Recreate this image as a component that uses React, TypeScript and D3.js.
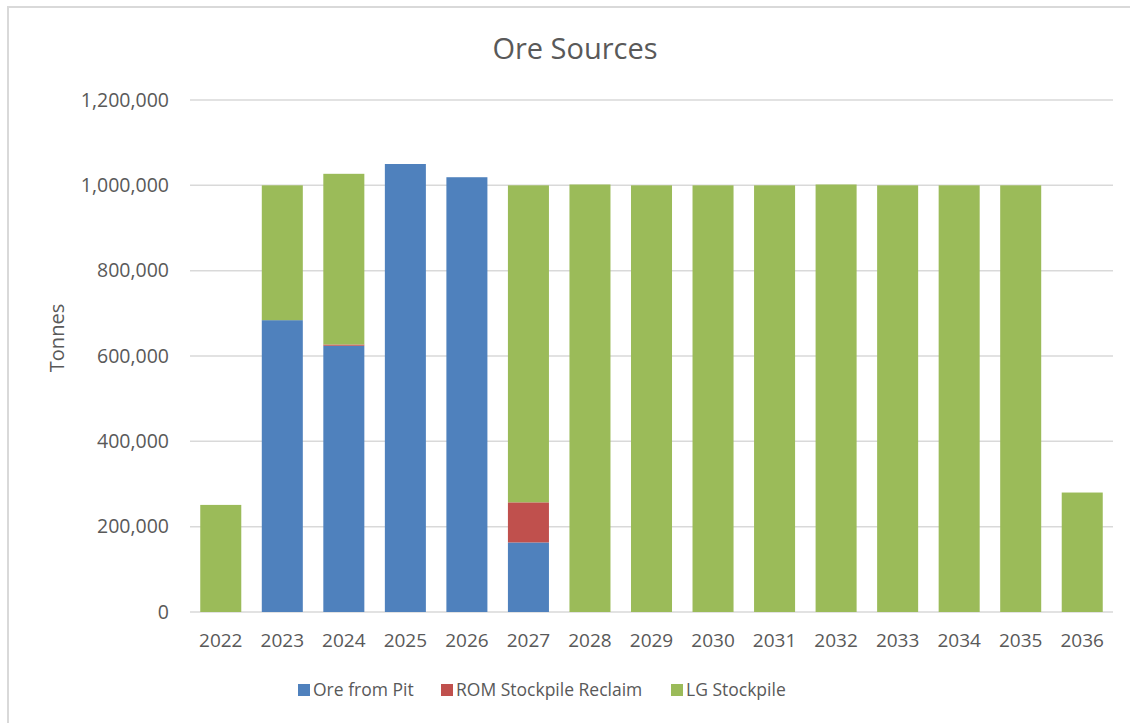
import React from "react";
import * as d3 from "d3";

// chart values
const years = ["2022", "2023", "2024", "2025", "2026", "2027", "2028", "2029", "2030", "2031", "2032", "2033", "2034", "2035", "2036"];
const oreFromPit = [0, 684000, 624000, 1050000, 1019000, 163000, 0, 0, 0, 0, 0, 0, 0, 0, 0];
const romReclaim = [0, 0, 3000, 0, 0, 94000, 0, 0, 0, 0, 0, 0, 0, 0, 0];
const lgStockpile = [251000, 316000, 400000, 0, 0, 743000, 1002000, 1000000, 1000000, 1000000, 1002000, 1000000, 1000000, 1000000, 280000];
const seriesNames = ["Ore from Pit", "ROM Stockpile Reclaim", "LG Stockpile"];
const seriesColors = ["#4F81BD", "#C0504D", "#9BBB59"];
const yTicks = [0, 200000, 400000, 600000, 800000, 1000000, 1200000];

const W = 1130;
const H = 723;
const FONT = "'Open Sans', sans-serif";
const TXT = "#595959";

export default function App() {
  const x = d3.scaleBand().domain(years).range([190, 1113]).paddingInner(1 / 3).paddingOuter(1 / 6);
  const y = d3.scaleLinear().domain([0, 1200000]).range([612, 100]);
  const fmt = d3.format(",");

  const rows = years.map((yr, i) => ({ year: yr, ore: oreFromPit[i], rom: romReclaim[i], lg: lgStockpile[i] }));
  const stack = d3.stack<any>().keys(["ore", "rom", "lg"])(rows);

  // legend layout (x of square for each entry)
  const legendX = [298, 441, 671];

  return (
    <svg width={W} height={H} style={{ position: "absolute", left: 0, top: 0, background: "#fff" }}>
      <rect x={8} y={7} width={1200} height={800} fill="#fff" stroke="#d9d9d9" strokeWidth={2} />
      <text x={575} y={59} textAnchor="middle" fontFamily={FONT} fontSize={29} fill={TXT}>Ore Sources</text>

      {/* grid + y labels */}
      {yTicks.map((t) => (
        <g key={t}>
          <line x1={190} x2={1113} y1={y(t)} y2={y(t)} stroke="#d9d9d9" strokeWidth={1.5} />
          <text x={169} y={y(t)} dy="0.35em" textAnchor="end" fontFamily={FONT} fontSize={19.5} fill={TXT}>{fmt(t)}</text>
        </g>
      ))}
      <text transform={`translate(64,338) rotate(-90)`} textAnchor="middle" fontFamily={FONT} fontSize={20} fill={TXT}>Tonnes</text>

      {/* bars */}
      {stack.map((s, si) => (
        <g key={s.key} fill={seriesColors[si]}>
          {s.map((d: any) => (d[1] - d[0] > 0 ? (
            <rect key={d.data.year} x={x(d.data.year)} width={x.bandwidth()} y={y(d[1])} height={y(d[0]) - y(d[1])} />
          ) : null))}
        </g>
      ))}

      {/* x labels */}
      {years.map((yr) => (
        <text key={yr} x={(x(yr) as number) + x.bandwidth() / 2} y={647} textAnchor="middle" fontFamily={FONT} fontSize={19} fill={TXT}>{yr}</text>
      ))}

      {/* legend */}
      {seriesNames.map((n, i) => (
        <g key={n}>
          <rect x={legendX[i]} y={684} width={12} height={12} fill={seriesColors[i]} />
          <text x={legendX[i] + 15} y={690} dy="0.35em" fontFamily={FONT} fontSize={17.5} fill={TXT}>{n}</text>
        </g>
      ))}
    </svg>
  );
}
